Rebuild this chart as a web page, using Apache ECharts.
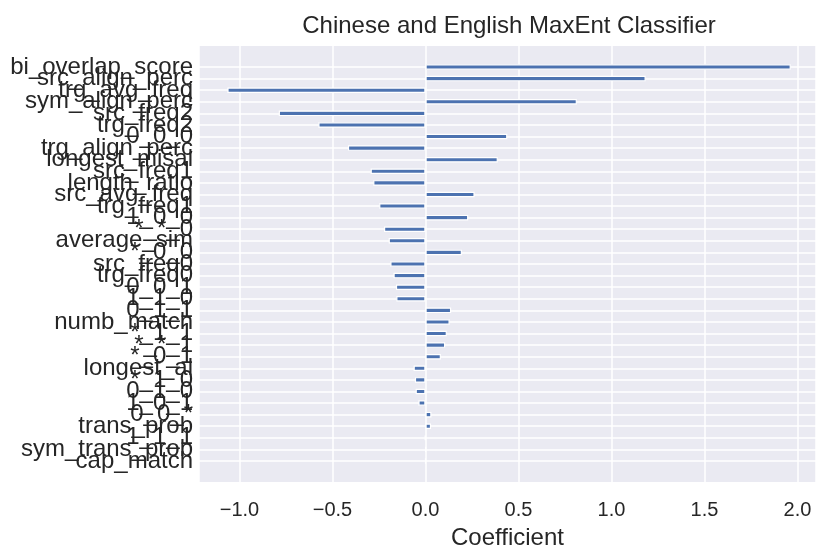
<!DOCTYPE html>
<html>
<head>
<meta charset="utf-8">
<script src="https://cdn.jsdelivr.net/npm/echarts@6/dist/echarts.min.js"></script>
<style>html,body{margin:0;padding:0;background:#fff}#c{width:816px;height:551px}</style>
</head>
<body>
<div id="c"></div>
<script>
const categories = ["bi_overlap_score","src_align_perc","trg_avg_freq","sym_align_perc","src_freq2","trg_freq2","0_0_0","trg_align_perc","longest_misal","src_freq1","length_ratio","src_avg_freq","trg_freq1","1_0_0","*_*_0","average_sim","*_0_0","src_freq0","trg_freq0","0_0_1","1_1_0","0_1_1","numb_match","*_1_1","*_*_1","*_0_1","longest_al","*_1_0","0_1_0","1_0_1","0_0_*","trans_prob","1_1_1","sym_trans_prob","cap_match"];
const coefficients = [1.964,1.184,-1.065,0.814,-0.789,-0.576,0.440,-0.417,0.389,-0.295,-0.281,0.264,-0.249,0.230,-0.223,-0.198,0.196,-0.189,-0.172,-0.159,-0.157,0.138,0.130,0.115,0.106,0.083,-0.064,-0.057,-0.053,-0.038,0.032,0.030,-0.004,0.002,0.0];
const titleText = "Chinese and English MaxEnt Classifier";
const xName = "Coefficient";
const xMin = -1.2177, xMax = 2.0995;

const FONT = '"Liberation Sans", Arial, sans-serif';
const TXT = '#262626';
const chart = echarts.init(document.getElementById('c'), null, {renderer: 'canvas'});
const fmt = v => (Math.abs(v) < 1e-9 ? '0.0' : v.toFixed(1).replace('-', '\u2212'));
chart.setOption({
  animation: false,
  title: {
    text: titleText, left: 504, top: 9, textAlign: 'center',
    textStyle: {fontFamily: FONT, fontSize: 24, fontWeight: 'normal', color: TXT}
  },
  grid: [
    {left: 199, right: 0, top: 46, bottom: 69, show: true, backgroundColor: '#eaeaf2', borderWidth: 0, containLabel: false, outerBoundsMode: 'none'},
    {left: 199, right: 0, top: 67, height: 394, show: false, containLabel: false, outerBoundsMode: 'none'}
  ],
  xAxis: [
    {gridIndex: 0, type: 'value', min: xMin, max: xMax, splitNumber: 6,
     axisLine: {show: false}, axisTick: {show: false},
     splitLine: {show: true, lineStyle: {color: '#ffffff', width: 1.5}},
     axisLabel: {show: true, showMinLabel: false, showMaxLabel: false, formatter: fmt, margin: 18,
                 fontFamily: FONT, fontSize: 20, color: TXT},
     name: xName, nameLocation: 'middle', nameGap: 44,
     nameTextStyle: {fontFamily: FONT, fontSize: 24, color: TXT}},
    {gridIndex: 1, type: 'value', min: xMin, max: xMax, show: false, splitLine: {show: false}}
  ],
  yAxis: [
    {gridIndex: 0, type: 'value', min: 0, max: 1, show: false, splitLine: {show: false}},
    {gridIndex: 1, type: 'category', data: categories, inverse: true, boundaryGap: false,
     axisLine: {show: false}, axisTick: {show: false},
     splitLine: {show: true, lineStyle: {color: '#ffffff', width: 1.5}},
     axisLabel: {interval: 0, margin: 6, fontFamily: FONT, fontSize: 24, color: TXT, hideOverlap: false}}
  ],
  series: [{
    type: 'bar', xAxisIndex: 1, yAxisIndex: 1, data: coefficients, clip: false,
    barWidth: 5.5,
    itemStyle: {color: '#4c72b0', borderColor: '#ffffff', borderWidth: 1.2}
  }]
});
</script>
</body>
</html>
